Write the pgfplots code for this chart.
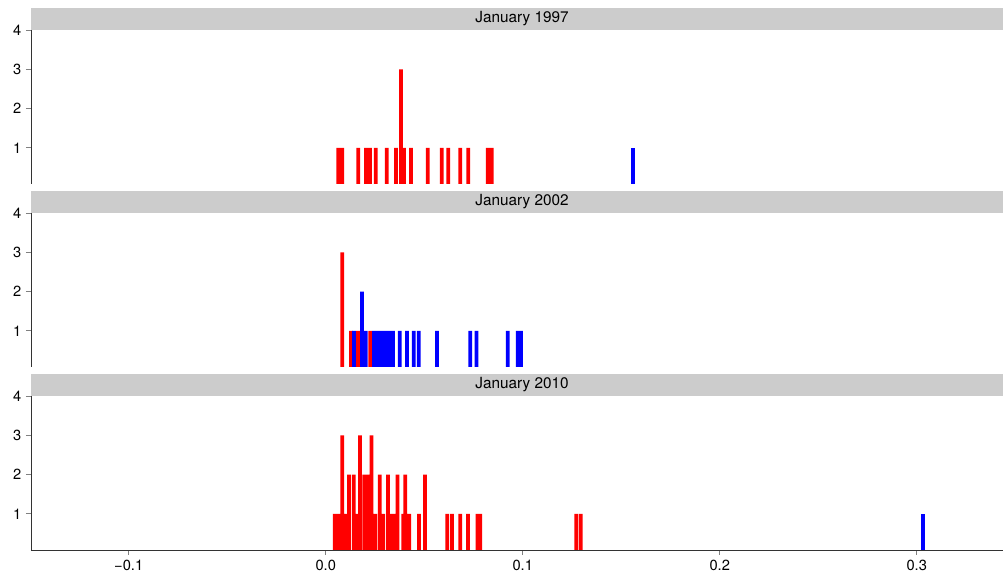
\documentclass[border=0pt]{standalone}
\usepackage{pgfplots}
\pgfplotsset{compat=1.18}
\usepackage{fontspec}
\setmainfont{TeX Gyre Heros}

\pgfplotsset{
  every axis title shift=0pt,
  panel/.style={
    scale only axis, width=729pt, height=115.5pt,
    anchor=north west,
    xmin=-0.1496, xmax=0.3438, ymin=0.08, ymax=4,
    ybar, bar width=0.0019, bar shift=0pt,
    axis y line*=left, axis line style={-, black!80, line width=0.6pt},
    ytick={1,2,3,4}, yticklabels={1,2,3,4},
    tick align=outside, major tick length=3.75pt,
    tick style={black!50, line width=0.6pt},
    ticklabel style={font=\fontsize{11}{13}\selectfont},
    title style={at={(0.5,1)}, anchor=south, yshift=0pt, xshift=3.75pt, fill=black!20,
      minimum width=736.5pt, minimum height=16.5pt, inner sep=0pt,
      font=\fontsize{11.5}{13}\selectfont},
  },
  red bars/.style={fill=red, draw=none},
  blue bars/.style={fill=blue, draw=none},
}

\begin{document}
\begin{tikzpicture}
\path[use as bounding box] (0,0) rectangle (752.25pt,435pt);

% January 1997
\begin{axis}[panel, at={(23.25pt,412.5pt)}, axis x line=none, title={January 1997}]
  \addplot[red bars] coordinates {
    (0.0064,1) (0.0084,1) (0.0165,1) (0.0205,1) (0.0225,1) (0.0254,1)
    (0.0310,1) (0.0357,1) (0.0382,3) (0.0398,1) (0.0433,1) (0.0518,1)
    (0.0589,1) (0.0622,1) (0.0683,1) (0.0724,1) (0.0822,1) (0.0843,1)
  };
  \addplot[blue bars] coordinates {(0.156,1)};
\end{axis}

% January 2002
\begin{axis}[panel, at={(23.25pt,275.25pt)}, axis x line=none, title={January 2002}]
  \addplot[red bars] coordinates {
    (0.0084,3) (0.0128,1) (0.0164,1) (0.0226,1)
  };
  \addplot[blue bars] coordinates {
    (0.0144,1) (0.0184,2) (0.0203,1) (0.0245,1) (0.0265,1) (0.0285,1)
    (0.0303,1) (0.0323,1) (0.0342,1) (0.0376,1) (0.0413,1) (0.0447,1)
    (0.0472,1) (0.0565,1) (0.0734,1) (0.0765,1) (0.0924,1) (0.0975,1)
    (0.0991,1)
  };
\end{axis}

% January 2010
\begin{axis}[panel, at={(23.25pt,138pt)}, axis x line*=bottom, title={January 2010},
    xtick={-0.1,0,0.1,0.2,0.3}, xticklabels={−0.1,0.0,0.1,0.2,0.3}]
  \addplot[red bars] coordinates {
    (0.0046,1) (0.0064,1) (0.0084,3) (0.0102,1) (0.0118,2) (0.0142,2)
    (0.0160,1) (0.0174,3) (0.0196,2) (0.0216,2) (0.0233,3) (0.0252,1)
    (0.0274,2) (0.0292,1) (0.0316,2) (0.0334,1) (0.0349,1) (0.0364,2)
    (0.0394,1) (0.0404,2) (0.0424,1) (0.0474,1) (0.0504,2) (0.0617,1)
    (0.0641,1) (0.0683,1) (0.0722,1) (0.0770,1) (0.0785,1) (0.1272,1)
    (0.1294,1)
  };
  \addplot[blue bars] coordinates {(0.303,1)};
\end{axis}
\end{tikzpicture}
\end{document}
